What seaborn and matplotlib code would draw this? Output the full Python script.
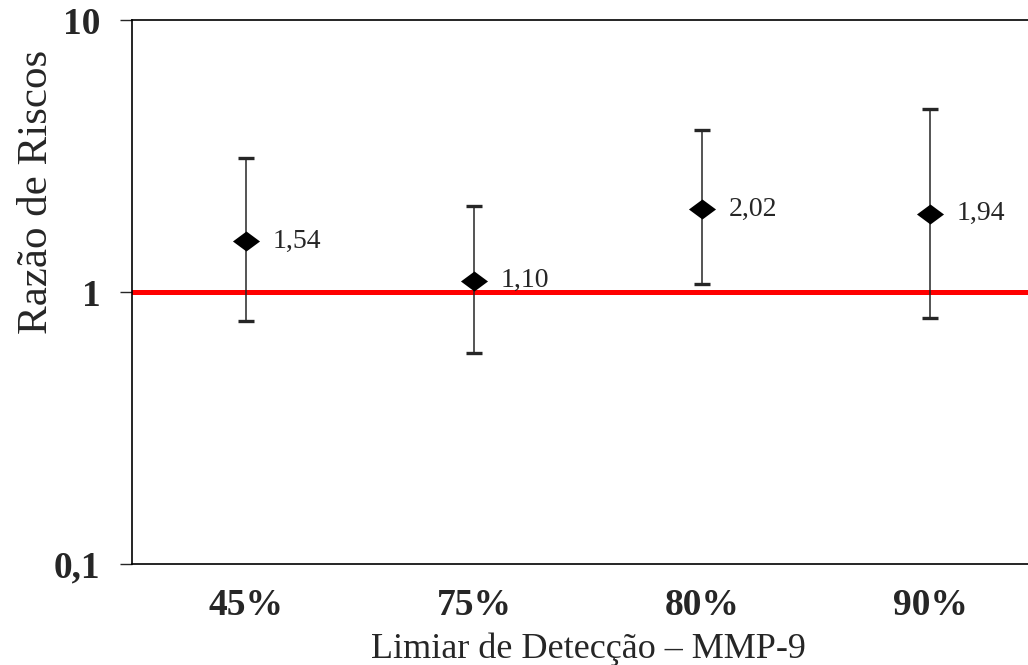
import numpy as np
import pandas as pd
import matplotlib
matplotlib.use("Agg")
import matplotlib.pyplot as plt
from matplotlib.path import Path
import seaborn as sns

# --- data ---
limiares = ["45%", "75%", "80%", "90%"]
razao = [1.54, 1.10, 2.02, 1.94]
ic_inf = [0.78, 0.595, 1.07, 0.80]
ic_sup = [3.10, 2.07, 3.94, 4.71]
rotulos = ["1,54", "1,10", "2,02", "1,94"]

df = pd.DataFrame({"pos": range(len(limiares)), "razao": razao,
                   "inf": ic_inf, "sup": ic_sup})

sns.set_style("white")
plt.rcParams["font.family"] = ["Liberation Serif", "DejaVu Serif"]

fig = plt.figure(figsize=(10.28, 6.65), dpi=100)
ax = fig.add_axes([132 / 1028, 101 / 665, 912 / 1028, 544 / 665])

# reference line at 1
ax.axhline(1, color="#ff0000", lw=3.6, zorder=1)

# error bars
ax.errorbar(df["pos"], df["razao"],
            yerr=[df["razao"] - df["inf"], df["sup"] - df["razao"]],
            fmt="none", ecolor="#262626", elinewidth=1.1,
            capsize=5.8, capthick=2.4, zorder=2)

# diamond markers (wider than tall)
diamante = Path([(-1, 0), (0, 0.74), (1, 0), (0, -0.74), (-1, 0)],
                [Path.MOVETO, Path.LINETO, Path.LINETO, Path.LINETO, Path.CLOSEPOLY])
sns.scatterplot(data=df, x="pos", y="razao", marker=diamante, s=380,
                color="black", edgecolor="black", linewidth=0, zorder=3, ax=ax)

for x, y, t in zip(df["pos"], df["razao"], rotulos):
    ax.annotate(t, (x, y), xytext=(19, 0), textcoords="offset points",
                va="center", ha="left", fontsize=20)

ax.set_yscale("log")
ax.set_ylim(0.1, 10)
ax.set_xlim(-0.5, 3.5)
ax.set_yticks([0.1, 1, 10])
ax.set_yticklabels(["0,1", "1", "10"], fontsize=27, fontweight="bold")
ax.minorticks_off()
ax.set_xticks(range(len(limiares)))
ax.set_xticklabels(limiares, fontsize=27, fontweight="bold")
ax.tick_params(axis="y", direction="out", length=8.6, width=1, pad=14, left=True)
ax.tick_params(axis="x", length=0, pad=17)

ax.set_xlabel("Limiar de Detecção – MMP-9", fontsize=26, labelpad=7)
ax.set_ylabel("Razão de Riscos", fontsize=31)
ax.yaxis.set_label_coords(-0.083, 0.684)

for s in ["left", "bottom", "top"]:
    ax.spines[s].set_color("black")
    ax.spines[s].set_linewidth(1.2)
ax.spines["right"].set_visible(False)

fig.savefig("out.png", dpi=100)
